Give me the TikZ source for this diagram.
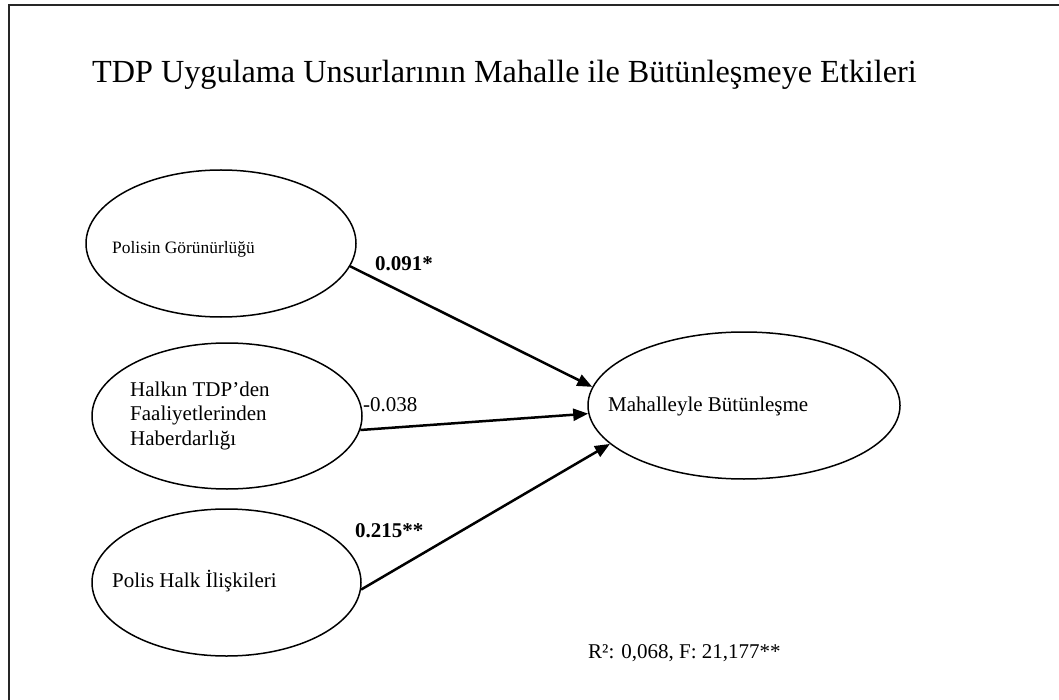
\documentclass[tikz,border=0pt]{standalone}
\usepackage{fontspec}
\setmainfont{Liberation Serif}
\usetikzlibrary{shapes.geometric,arrows.meta}
\begin{document}
\begin{tikzpicture}[x=1pt,y=-1pt,
  oval/.style={draw=black,line width=1.5pt,ellipse,inner sep=0pt},
  lbl/.style={inner sep=0pt,anchor=base west,font=\fontsize{21}{24.5}\selectfont},
  blbl/.style={lbl,font=\fontsize{21}{24.5}\selectfont\bfseries},
  path/.style={line width=2.5pt,-{Triangle[length=15pt,width=12pt]}}]
\useasboundingbox (0,0) rectangle (1059,700);
\fill[white] (0,0) rectangle (1059,700);
\draw[line width=2pt,black!85] (8.5,700) -- (8.5,5) -- (1059,5);
% title
\node[inner sep=0pt,anchor=base west,font=\fontsize{32.2}{38}\selectfont] (title) at (92,83)
  {TDP Uygulama Unsurlarının Mahalle ile Bütünleşmeye Etkileri};
% ellipses
\node[oval,minimum width=270pt,minimum height=147pt] (e1) at (221,243.5) {};
\node[oval,minimum width=270pt,minimum height=146pt] (e2) at (227,416) {};
\node[oval,minimum width=269pt,minimum height=147pt] (e3) at (226.5,582.5) {};
\node[oval,minimum width=312pt,minimum height=147pt] (e4) at (744,405.5) {};
% texts
\node[inner sep=0pt,anchor=base west,font=\fontsize{17.4}{20}\selectfont] (t1) at (112,254) {Polisin Görünürlüğü};
\node[inner sep=0pt,anchor=north west,align=left,font=\fontsize{21}{24.5}\selectfont] (t2) at (130,381.6)
  {Halkın TDP’den\\Faaliyetlerinden\\Haberdarlığı};
\node[lbl] (t3) at (112,587) {Polis Halk İlişkileri};
\node[lbl] (t4) at (608,411) {Mahalleyle Bütünleşme};
% arrows
\draw[path] (e1.-10.8) -- (e4.173);
\draw[path] (e2.-6) -- (e4.183);
\draw[path] (e3.-3.6) -- (e4.196.4);
% coefficients
\node[blbl] (c1) at (375,271) {0.091*};
\node[lbl] (c2) at (363,411) {-0.038};
\node[blbl] (c3) at (355,537) {0.215**};
\node[lbl] (r2) at (588,658) {R²: 0,068, F: 21,177**};
\end{tikzpicture}
\end{document}
